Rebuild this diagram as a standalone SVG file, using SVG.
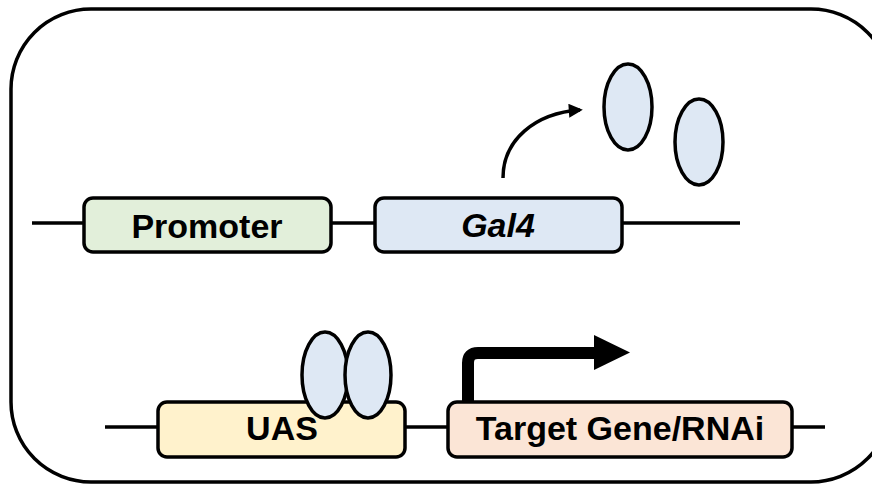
<svg xmlns="http://www.w3.org/2000/svg" width="872" height="493" viewBox="0 0 872 493">
<style>
.box{stroke:#000;stroke-width:3.5}
.dna{stroke:#000;stroke-width:3.5;fill:none}
.lbl{font-family:"Liberation Sans",Arial,sans-serif;font-weight:bold;font-size:34px;fill:#000;text-anchor:middle}
.prot{fill:#dee8f4;stroke:#000;stroke-width:3.5}
</style>
<defs>
<marker id="ah" viewBox="0 0 10 10" refX="8" refY="5" markerWidth="4.5" markerHeight="4" orient="auto" markerUnits="strokeWidth">
<path d="M0,0 L10,5 L0,10 z" fill="#000"/>
</marker>
</defs>
<rect x="11" y="9" width="880" height="473" rx="80" ry="80" fill="none" stroke="#000" stroke-width="3.5"/>
<g id="connectors">
<line class="dna" x1="32" y1="223" x2="740" y2="223"/>
<line class="dna" x1="105" y1="427" x2="825" y2="427"/>
<path class="dna" d="M503,178 C503,140 535,113 580,110" stroke-width="3" marker-end="url(#ah)"/>
<path d="M468,402 L468,363 Q468,353 478,353 L596,353" fill="none" stroke="#000" stroke-width="12"/>
<path d="M594,335 L630,352.5 L594,370 z" fill="#000"/>
</g>
<g id="promoter">
<rect class="box" x="84" y="198" width="247" height="54" rx="9" fill="#e2efda"/>
<text class="lbl" x="207" y="238">Promoter</text>
</g>
<g id="gal4">
<rect class="box" x="375" y="198" width="247" height="54" rx="9" fill="#dee8f4"/>
<text class="lbl" x="498" y="237" font-style="italic">Gal4</text>
</g>
<g id="gal4-protein-1"><ellipse class="prot" cx="628" cy="107" rx="24" ry="43"/></g>
<g id="gal4-protein-2"><ellipse class="prot" cx="699" cy="142" rx="24" ry="43"/></g>
<g id="uas">
<rect class="box" x="158" y="402" width="247" height="55" rx="9" fill="#fff2cc"/>
<text class="lbl" x="282" y="440">UAS</text>
</g>
<g id="bound-protein-1"><ellipse class="prot" cx="325" cy="375" rx="23" ry="43"/></g>
<g id="bound-protein-2"><ellipse class="prot" cx="368" cy="375" rx="23" ry="43"/></g>
<g id="target">
<rect class="box" x="448" y="402" width="344" height="55" rx="9" fill="#fbe5d6"/>
<text class="lbl" x="620" y="440">Target Gene/RNAi</text>
</g>
</svg>
